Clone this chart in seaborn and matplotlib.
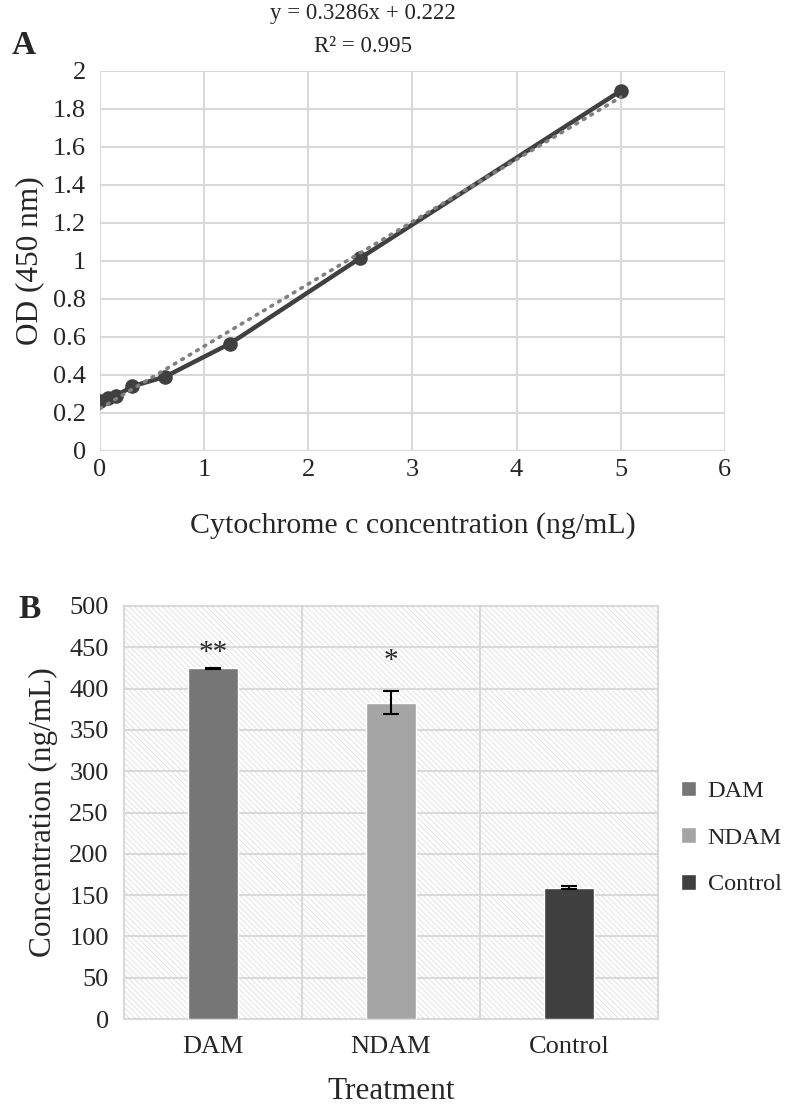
import numpy as np
import pandas as pd
import matplotlib
matplotlib.use("Agg")
import matplotlib.pyplot as plt
import seaborn as sns
from matplotlib.patches import Rectangle

# ─────────────────────────────────────────────
# DATA
# ─────────────────────────────────────────────
# Panel A: standard curve
conc = [0, 0.078, 0.156, 0.3125, 0.625, 1.25, 2.5, 5]
od = [0.26, 0.28, 0.29, 0.34, 0.39, 0.565, 1.015, 1.895]
eq_text = "y = 0.3286x + 0.222"
r2_text = "R\u00b2 = 0.995"

# Panel B: cytochrome c concentration per treatment
treatments = ["DAM", "NDAM", "Control"]
conc_mean = [424.5, 383, 159]
conc_err = [1, 14, 1.5]
stars = ["**", "*", ""]
star_y = [443, 433, 0]

bar_colors = ["#767676", "#a5a5a5", "#404040"]
grid_color = "#d9d9d9"
TICK_FS = 19
LABEL_FS = 21.5

sns.set_theme(style="white")
plt.rcParams["font.family"] = ["Liberation Serif", "DejaVu Serif"]
plt.rcParams["hatch.linewidth"] = 0.6

fig = plt.figure(figsize=(7.87, 11.05), dpi=100)

# ─────────────────────────────────────────────
# PANEL A
# ─────────────────────────────────────────────
axA = fig.add_axes([0.127, 0.592, 0.794, 0.3438])
df_a = pd.DataFrame({"conc": conc, "od": od})
sns.lineplot(data=df_a, x="conc", y="od", ax=axA, color="#404040", lw=3.2,
             marker="o", markersize=10.5, markeredgewidth=0, zorder=3)
sns.regplot(data=df_a, x="conc", y="od", ax=axA, ci=None, scatter=False,
            truncate=True,
            line_kws=dict(color="#808080", lw=2.6, ls=(0, (0.5, 1.9)),
                          dash_capstyle="round", zorder=4))
axA.set_xlim(0, 6)
axA.set_ylim(0, 2)
axA.set_xticks(np.arange(0, 7, 1))
axA.set_yticks(np.arange(0, 2.01, 0.2))
axA.set_yticklabels(["0", "0.2", "0.4", "0.6", "0.8", "1", "1.2", "1.4", "1.6", "1.8", "2"])
axA.grid(True, color=grid_color, lw=1.5)
axA.set_axisbelow(True)
for s in axA.spines.values():
    s.set_visible(False)
axA.tick_params(axis="both", labelsize=TICK_FS, length=0)
axA.tick_params(axis="y", pad=10)
axA.tick_params(axis="x", pad=6)
axA.set_xlabel("Cytochrome c concentration (ng/mL)", fontsize=LABEL_FS, labelpad=22)
axA.set_ylabel("OD (450 nm)", fontsize=LABEL_FS + 1, labelpad=6)

fig.text(363 / 787, 1 - 14 / 1105, eq_text, fontsize=16.5, ha="center", va="center")
fig.text(363 / 787, 1 - 46 / 1105, r2_text, fontsize=16.5, ha="center", va="center")
fig.text(24 / 787, 1 - 45 / 1105, "A", fontsize=24, fontweight="bold", ha="center", va="center")

# ─────────────────────────────────────────────
# PANEL B
# ─────────────────────────────────────────────
axB = fig.add_axes([0.1576, 0.0778, 0.6785, 0.3738])
axB.add_patch(Rectangle((0, 0), 1, 1, transform=axB.transAxes, facecolor="white",
                        edgecolor="#dedede", hatch="\\\\\\\\\\\\", lw=0, zorder=0))
df_b = pd.DataFrame({"Treatment": treatments, "Concentration": conc_mean})
sns.barplot(data=df_b, x="Treatment", y="Concentration", hue="Treatment",
            order=treatments, hue_order=treatments, palette=bar_colors,
            width=0.28, saturation=1, legend=True, ax=axB, zorder=3)
xpos = axB.get_xticks()
axB.errorbar(xpos, conc_mean, yerr=conc_err, fmt="none", ecolor="black",
             elinewidth=1.5, capsize=6, capthick=1.5, zorder=4)
for xp, s, sy in zip(xpos, stars, star_y):
    if s:
        axB.text(xp, sy, s, ha="center", va="center", fontsize=21)
axB.set_ylim(0, 500)
axB.set_xlim(-0.5, 2.5)
axB.set_yticks(np.arange(0, 501, 50))
axB.set_xticks([0.5, 1.5], minor=True)
axB.grid(True, axis="y", color=grid_color, lw=1.5, zorder=1)
axB.grid(True, axis="x", which="minor", color=grid_color, lw=1.5, zorder=1)
axB.set_axisbelow(True)
for s in axB.spines.values():
    s.set_color(grid_color)
    s.set_linewidth(1.5)
axB.tick_params(axis="both", which="both", labelsize=TICK_FS, length=0)
axB.tick_params(axis="y", pad=11)
axB.tick_params(axis="x", pad=12)
axB.set_xlabel("Treatment", fontsize=LABEL_FS + 1, labelpad=14)
axB.set_ylabel("Concentration (ng/mL)", fontsize=LABEL_FS + 1, labelpad=8)

handles, labels = axB.get_legend_handles_labels()
axB.legend_.remove()
fig.legend(handles, labels, loc="center left",
           bbox_to_anchor=(681 / 787, 1 - 838 / 1105),
           frameon=False, fontsize=17.5, handlelength=0.6, handleheight=0.6,
           handletextpad=0.5, labelspacing=1.05, borderpad=0, borderaxespad=0)

fig.text(30 / 787, 1 - 610 / 1105, "B", fontsize=24, fontweight="bold", ha="center", va="center")

fig.savefig("out.png", dpi=100)
